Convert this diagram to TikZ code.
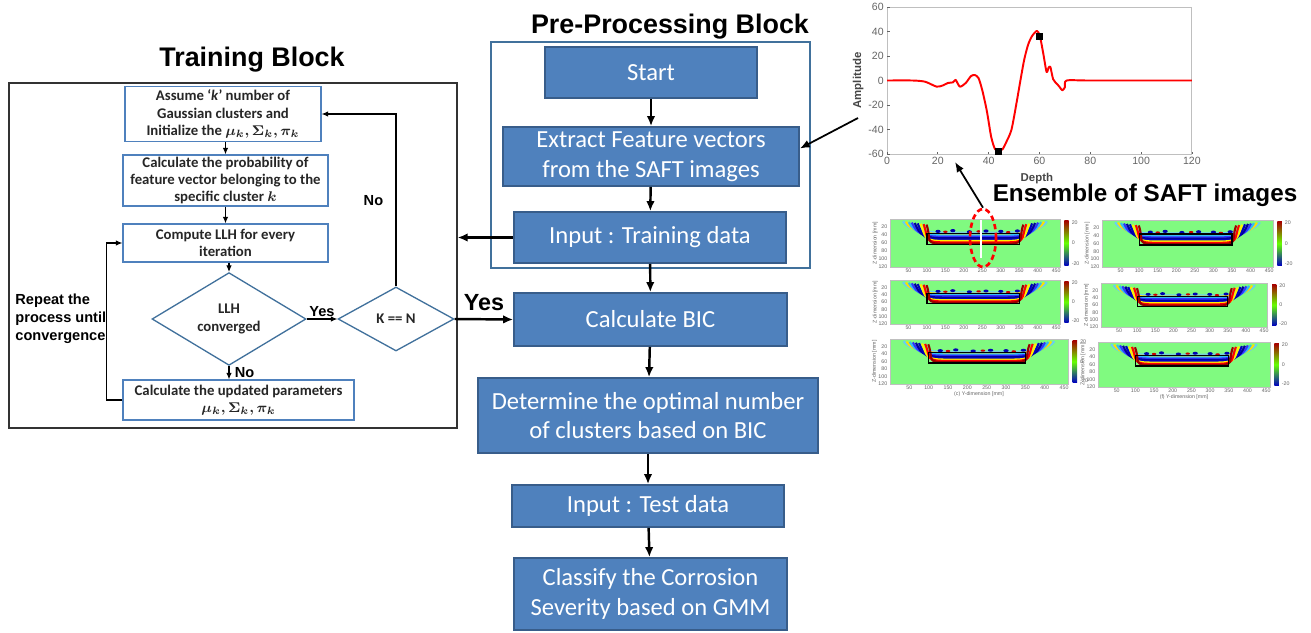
\documentclass[tikz,border=0pt]{standalone}
\usepackage{fontspec}
\usepackage{amsmath}
\usepackage{bm}
\setmainfont{Carlito}
\setsansfont{Liberation Sans}
\usetikzlibrary{arrows.meta,shapes.geometric}

\definecolor{boxblue}{RGB}{79,129,189}
\definecolor{edgeblue}{RGB}{56,93,138}
\definecolor{frameblue}{RGB}{65,113,156}
\definecolor{saftgreen}{RGB}{128,250,128}
\definecolor{axisgrey}{RGB}{100,100,100}

% one SAFT image: top-left x, top-left y, width, height (pixels), caption
\newcommand{\saftpanel}[5]{%
  \pgfmathsetmacro{\sx}{#3*0.02/460}%
  \pgfmathsetmacro{\sy}{#4*0.02/120}%
  \begin{scope}[shift={(#1,#2)},x=\sx cm,y=-\sy cm]
    \fill[saftgreen] (0,0) rectangle (460,120);
    \begin{scope}
      \clip (0,0) rectangle (460,120);
      \foreach \k/\c in {0/cyan!60,1/yellow!80!orange,2/cyan!80,3/blue!80,4/blue!60!black,5/blue!75!black,6/yellow,7/red,8/red!60!black}
        \draw[\c,line width=1.2pt] (35+8*\k,6+\k) .. controls (50+8*\k,28+3.5*\k) and (90,34+3.5*\k) .. (150,34+3.5*\k)
          -- (310,34+3.5*\k) .. controls (370,34+3.5*\k) and (410-8*\k,28+3.5*\k) .. (425-8*\k,6+\k);
      \foreach \p in {(130,31),(170,29),(215,32),(260,30),(300,31),(345,30)}
        \fill[blue!70!black] \p ellipse[x radius=7,y radius=4];
      \foreach \p in {(150,32),(240,31),(320,33)}
        \fill[red!80!black] \p ellipse[x radius=6,y radius=3];
    \end{scope}
    \draw[black,line width=0.7pt] (100,36) rectangle (350,64);
    \draw[black!25,line width=0.3pt] (0,0) rectangle (460,120);
    \shade[top color=red!65!black,bottom color=blue!75!black,middle color=green!60!yellow] (472,4) rectangle (484,116);
    \foreach \t in {50,100,...,450} \node[safttick] at (\t,130) {\t};
    \foreach \t in {20,40,...,120} \node[safttick,anchor=east] at (-3,\t) {\t};
    \node[safttick,anchor=west] at (488,8) {20};
    \node[safttick,anchor=west] at (488,60) {0};
    \node[safttick,anchor=west] at (488,112) {-20};
    \node[safttick,rotate=90] at (-40,60) {Z-dimension [mm]};
    \node[safttick] at (230,146) {#5};
  \end{scope}}

\begin{document}
\begin{tikzpicture}[x=0.02cm,y=-0.02cm,line width=0.8pt,
  procbox/.style={draw=edgeblue,line width=1pt,fill=boxblue,text=white,font=\fontsize{14}{17}\selectfont,align=center,inner sep=0pt},
  trainbox/.style={draw=boxblue,line width=0.75pt,fill=white,text=black!85,font=\bfseries\fontsize{8.4}{9.9}\selectfont,align=center,inner sep=0pt},
  decision/.style={diamond,draw=frameblue,line width=0.75pt,fill=white,text=black!85,font=\bfseries\fontsize{8.4}{9.9}\selectfont,align=center,inner sep=0pt},
  blocktitle/.style={font=\sffamily\bfseries\fontsize{15.3}{17}\selectfont},
  lab/.style={font=\sffamily\bfseries\fontsize{8.3}{10.2}\selectfont,inner sep=1pt},
  flow/.style={-{Latex[length=2mm,width=1.7mm]},line width=1.4pt},
  thinflow/.style={-{Latex[length=1.3mm,width=1.1mm]},line width=0.6pt},
  plottick/.style={font=\sffamily\fontsize{6}{7}\selectfont,text=axisgrey,inner sep=1.5pt},
  safttick/.style={font=\sffamily\fontsize{3}{3.5}\selectfont,text=axisgrey,inner sep=0.5pt}]
  \useasboundingbox (0,0) rectangle (1311,632);

  % training block
  \node[draw=black!80,line width=0.8pt,minimum width=8.96cm,minimum height=6.9cm,inner sep=0pt] (tbox) at (233,255.5) {};
  \node[blocktitle] (ttitle) at (252,60) {Training Block};
  \node[trainbox,minimum width=3.92cm,minimum height=1.1cm] (assume) at (223,114)
    {Assume ‘\textit{k}’ number of\\Gaussian clusters and\\Initialize the $\bm{\mu_k, \Sigma_k, \pi_k}$};
  \node[trainbox,minimum width=4.1cm,minimum height=1.02cm] (prob) at (225.5,180.5)
    {Calculate the probability of\\feature vector belonging to the\\specific cluster $\bm{k}$};
  \node[trainbox,minimum width=4.1cm,minimum height=0.76cm] (llh) at (225.5,243) {Compute LLH for every\\iteration};
  \node[decision,minimum width=3.08cm,minimum height=1.62cm] (conv) at (229,319) {LLH\\converged};
  \node[decision,minimum width=2.32cm,minimum height=1.28cm] (kn) at (396,319) {K == N};
  \node[trainbox,minimum width=4.62cm,minimum height=0.8cm] (upd) at (238.5,400)
    {Calculate the updated parameters\\$\bm{\mu_k, \Sigma_k, \pi_k}$};
  \node[lab,anchor=west,align=left] (repeat) at (13,319) {Repeat the\\process until\\convergence};

  \draw[thinflow] (prob.north |- assume.south) -- (prob.north);
  \draw[thinflow] (prob) -- (llh);
  \draw[thinflow] (conv.north |- llh.south) -- (conv.north);
  \draw[thinflow] (conv) -- node[lab,above]{Yes} (kn);
  \draw[thinflow] (conv.south) -- node[lab,right=2pt]{No} (conv.south |- upd.north);
  \draw[thinflow] (upd.west) -- ++(-16,0) |- (llh.west);
  \draw[thinflow] (kn.north) |- node[lab,pos=0.25,left=6pt]{No} (assume.east);

  % pre-processing block
  \node[draw=frameblue,line width=1.2pt,minimum width=6.38cm,minimum height=4.52cm,inner sep=0pt] (prebox) at (650.5,155) {};
  \node[blocktitle] (pretitle) at (670,27) {Pre-Processing Block};
  \node[procbox,minimum width=4.24cm,minimum height=1.02cm] (start) at (651,72.5) {Start};
  \node[procbox,minimum width=5.92cm,minimum height=1.18cm] (extract) at (651,156.5) {Extract Feature vectors\\from the SAFT images};
  \node[procbox,minimum width=5.44cm,minimum height=1.02cm] (train) at (650,237.5) {Input : Training data};
  \node[procbox,minimum width=5.46cm,minimum height=1.06cm] (bic) at (650.5,319.5) {Calculate BIC};
  \node[procbox,minimum width=6.8cm,minimum height=1.5cm] (optk) at (648,415.5) {Determine the optimal number\\of clusters based on BIC};
  \node[procbox,minimum width=5.44cm,minimum height=0.84cm] (test) at (648,506) {Input : Test data};
  \node[procbox,minimum width=5.46cm,minimum height=1.44cm] (classify) at (650.5,594) {Classify the Corrosion\\Severity based on GMM};

  \draw[flow] (start) -- (extract);
  \draw[flow] (extract) -- (train);
  \draw[flow] (train) -- (bic);
  \draw[flow] (bic) -- (optk);
  \draw[flow] (optk) -- (test);
  \draw[flow] (test) -- (classify);
  \draw[flow] (train.west) -- (train.west -| tbox.east);
  \draw[flow] (kn.east) -- node[font=\sffamily\bfseries\fontsize{13.3}{15}\selectfont,above=1pt]{Yes} (bic.west);

  % feature vector plot
  \begin{scope}[shift={(887,80.5)},x=0.050833cm,y=0.0245cm]
    \draw[black!25,line width=0.5pt] (0,-60) rectangle (120,60);
    \foreach \t in {0,20,...,120} {
      \draw[axisgrey,line width=0.4pt] (\t,-60) -- ++(0,2);
      \node[plottick,below] at (\t,-60) {\t};
    }
    \foreach \t in {-60,-40,...,60} {
      \draw[axisgrey,line width=0.4pt] (0,\t) -- ++(1,0);
      \node[plottick,left] at (0,\t) {\t};
    }
    \draw[red,line width=1.1pt,line join=round] plot[smooth,tension=0.45] coordinates {
      (0,0) (10,0) (15,-1) (19.5,-5) (22,-4) (24,-2) (26,-1.5) (27,0.5) (28.7,-5) (31,-2) (33,3.5)
      (34.5,4.5) (36,2) (37.5,-8) (39.3,-25) (41,-46) (42.5,-56) (44,-57.5) (45.5,-56) (47,-50)
      (49,-40) (51,-18) (52.5,0) (54,17) (55.5,29) (57,36) (59,40.5) (60.2,36) (61.5,22) (62.8,7)
      (63.6,10.5) (64.3,11) (65.4,1) (67,-3) (68,-5.5) (69,-8) (70,-5.5) (70.7,0) (80,0) (120,0)};
    \node[fill=black,minimum size=4pt,inner sep=0pt] (lowmark) at (44,-58) {};
    \node[fill=black,minimum size=4pt,inner sep=0pt] (highmark) at (60.2,36) {};
    \node[font=\sffamily\bfseries\fontsize{6.5}{7}\selectfont,text=axisgrey!70!black,rotate=90] (ampl) at (-11.4,0) {Amplitude};
    \node[font=\sffamily\bfseries\fontsize{6.5}{7}\selectfont,text=axisgrey!70!black] (depth) at (59,-80.4) {Depth};
  \end{scope}

  % ensemble of SAFT images
  \node[font=\sffamily\bfseries\fontsize{13.8}{15}\selectfont] (ensemble) at (1145,195) {Ensemble of SAFT images};
  \saftpanel{890}{219}{170}{48}{}
  \saftpanel{1102}{220}{171}{47}{}
  \saftpanel{890}{280}{170}{44}{}
  \saftpanel{1101}{283}{167}{44}{}
  \saftpanel{890}{339}{178}{45}{(c) Y-dimension [mm]}
  \saftpanel{1098}{342}{172}{45}{(f) Y-dimension [mm]}
  \draw[white,line width=1.5pt] (981,220) -- (981,258);
  \node[ellipse,draw=red,dash pattern=on 3pt off 2pt,line width=1.5pt,minimum width=0.52cm,minimum height=1.16cm,inner sep=0pt] (roi) at (983,238) {};

  \coordinate (ampfoot) at (858,118);
  \coordinate (depthaxis) at (955,162);
  \draw[-{Latex[length=2mm,width=1.6mm]},line width=1pt] (ampfoot) -- ([yshift=0.16cm]extract.east);
  \draw[-{Latex[length=2mm,width=1.6mm]},line width=1pt] (roi.north) -- (depthaxis);
\end{tikzpicture}
\end{document}
